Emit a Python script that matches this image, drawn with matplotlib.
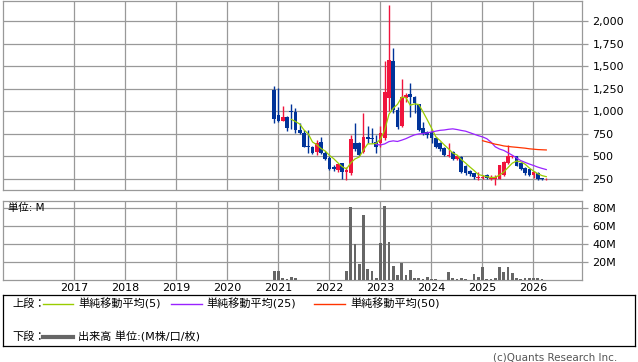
import matplotlib.pyplot as plt
import numpy as np
import pandas as pd

plt.rcParams['font.family'] = ['DejaVu Sans', 'Noto Sans CJK JP']

# monthly candles, first bar = Dec 2020
first_month = '2020-12'
opens = [1238, 960, 894, 941, 1010, 997, 794, 757, 616, 609,
         553, 661, 542, 486, 380, 350, 424, 330, 320, 646,
         646, 553, 720, 710, 664, 650, 701, 1150, 1560, 1016,
         838, 1150, 1193, 1163, 1083, 813, 775, 770, 700, 646,
         590, 505, 553, 475, 491, 394, 342, 313, 260, 265,
         300, 255, 245, 255, 290, 424, 495, 505, 424, 369,
         358, 294, 313, 260, 245]
highs = [1282, 1260, 1060, 945, 1080, 1035, 870, 790, 794, 615,
         683, 720, 560, 500, 400, 420, 430, 380, 738, 870,
         660, 980, 838, 820, 738, 840, 1563, 2180, 1701, 1050,
         1357, 1210, 1312, 1170, 1083, 886, 780, 790, 720, 660,
         600, 646, 560, 510, 500, 400, 350, 320, 330, 300,
         310, 300, 290, 410, 450, 627, 520, 510, 430, 380,
         365, 340, 330, 265, 258]
lows = [868, 883, 890, 786, 800, 764, 750, 600, 542, 527,
        516, 527, 460, 350, 340, 330, 250, 235, 300, 560,
        500, 540, 650, 650, 535, 600, 680, 1000, 983, 810,
        830, 1100, 941, 980, 780, 740, 700, 650, 590, 560,
        500, 490, 460, 460, 320, 300, 280, 250, 240, 250,
        245, 240, 183, 245, 280, 420, 480, 390, 350, 300,
        280, 260, 239, 240, 240]
closes = [916, 894, 938, 819, 995, 794, 757, 609, 602, 542,
          646, 542, 469, 361, 358, 413, 331, 350, 690, 580,
          520, 720, 690, 690, 609, 760, 1219, 1571, 1016, 830,
          1163, 1180, 1157, 1090, 794, 757, 738, 700, 609, 580,
          516, 520, 469, 500, 330, 320, 305, 269, 276, 270,
          258, 262, 275, 405, 440, 505, 505, 394, 358, 313,
          294, 331, 250, 250, 255]
# volume in millions of shares
volume = [10, 10, 2.2, 1.5, 3.4, 2.2, 0.4, 0.4, 0.4, 0.4,
          0.4, 0.4, 0.4, 0.4, 0.4, 0.4, 0.4, 10, 81, 40,
          18, 72, 12, 10, 2.2, 41.5, 82, 42.6, 15.7, 5.2,
          19.4, 5.2, 10.8, 2.2, 2.2, 1.5, 3, 1.1, 0.7, 0.4,
          0.3, 9, 2.2, 0.7, 1.9, 1.1, 0.4, 6.7, 3.4, 14.6,
          1.1, 1.1, 2.2, 14.6, 9.3, 14.6, 7.8, 2.2, 1.1, 2.2,
          2.2, 2.2, 2.2, 1.1, 0]

years = list(range(2017, 2027))
price_ticks = [250, 500, 750, 1000, 1250, 1500, 1750, 2000]
vol_ticks = [20, 40, 60, 80]
ma_periods = [5, 25, 50]

UP = '#f0143c'
DOWN = '#003399'
GRID = '#999999'
MA_COLORS = ['#99cc00', '#9922ff', '#ff3300']

months = pd.period_range(first_month, periods=len(closes), freq='M')
x = np.arange(len(closes))
o = np.array(opens, float)
c = np.array(closes, float)
up = c >= o
colors = np.where(up, UP, DOWN)
year_pos = [(pd.Period(f'{y}-01', 'M') - months[0]).n - 0.1 for y in years]

fig = plt.figure(figsize=(6.38, 3.62), dpi=100)
ax = fig.add_axes([3 / 638, 1 - 190 / 362, 579 / 638, 189 / 362])
axv = fig.add_axes([3 / 638, 1 - 280 / 362, 579 / 638, 79 / 362])

xlim = (-63.8, 72.4)

# price panel
ax.vlines(x, lows, highs, colors=colors, linewidth=1, zorder=3)
body = np.maximum(np.abs(c - o), 8)
ax.bar(x, body, bottom=np.minimum(o, c), width=0.84, color=colors, zorder=4)
s = pd.Series(closes)
for p, col in zip(ma_periods, MA_COLORS):
    ax.plot(x, s.rolling(p).mean(), color=col, linewidth=0.9, zorder=5)

ax.set_xlim(*xlim)
ax.set_ylim(128, 2226)
ax.set_xticks(year_pos)
ax.set_xticklabels([])
ax.set_yticks(price_ticks)
ax.set_yticklabels([f'{v:,}' for v in price_ticks])

# volume panel
axv.bar(x, volume, width=0.66, color='#666666', zorder=3)
axv.set_xlim(*xlim)
axv.set_ylim(0, 80 * 79 / 72)
axv.set_xticks(year_pos)
axv.set_xticklabels([str(y) for y in years])
axv.set_yticks(vol_ticks)
axv.set_yticklabels([f'{v}M' for v in vol_ticks])
axv.text(5 / 579, 80, '単位: M', transform=axv.get_yaxis_transform(),
         fontsize=7.5, va='center', ha='left')

for a in (ax, axv):
    a.grid(True, color=GRID, linewidth=0.9, zorder=0)
    a.set_axisbelow(True)
    for sp in a.spines.values():
        sp.set_color(GRID)
        sp.set_linewidth(0.9)
    a.yaxis.tick_right()
    a.tick_params(axis='y', length=4.5, width=0.9, color=GRID, pad=3,
                  labelsize=8)
    a.tick_params(axis='x', length=0, labelsize=8, pad=2)

# legend box
leg = fig.add_axes([3 / 638, 1 - 346 / 362, 632 / 638, 51 / 362])
leg.set_xlim(0, 632)
leg.set_ylim(51, 0)
leg.set_xticks([])
leg.set_yticks([])
for sp in leg.spines.values():
    sp.set_color('black')
    sp.set_linewidth(0.9)
fs = 8
y1, y2 = 8.5, 42
leg.text(9, y1, '上段：', fontsize=fs, va='center')
leg.text(9, y2, '下段：', fontsize=fs, va='center')
items = [(40, 70, 75, '単純移動平均(5)'),
         (168, 199, 203, '単純移動平均(25)'),
         (311, 342, 347, '単純移動平均(50)')]
for (a0, a1, tx, label), col in zip(items, MA_COLORS):
    leg.plot([a0, a1], [y1, y1], color=col, linewidth=1)
    leg.text(tx, y1, label, fontsize=fs, va='center')
leg.plot([40, 70], [y2, y2], color='#666666', linewidth=3)
leg.text(75, y2, '出来高 単位:(M株/口/枚)', fontsize=fs, va='center')

fig.text(617 / 638, 1 - 357 / 362, '(c)Quants Research Inc.', fontsize=7.5,
         color='#555555', ha='right', va='center')

fig.savefig('out.png', dpi=100)
